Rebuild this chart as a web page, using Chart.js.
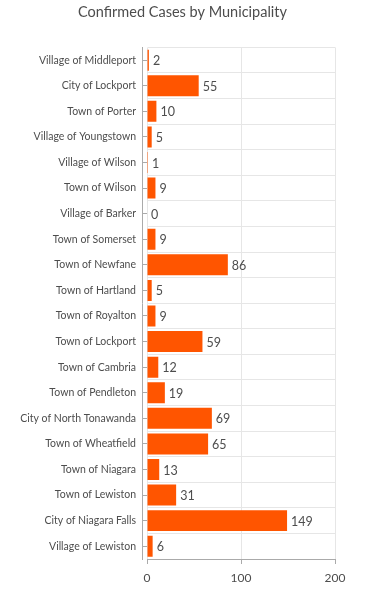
<!DOCTYPE html>
<html>
<head>
<meta charset="utf-8">
<script src="https://cdn.jsdelivr.net/npm/chart.js@4"></script>
<style>
  html, body { margin: 0; padding: 0; background: #fff; }
  #wrap { width: 365px; height: 589px; }
</style>
</head>
<body>
<div id="wrap"><canvas id="myBarChart"></canvas></div>
<script>
var municipalities = [
    'Village of Middleport', 'City of Lockport', 'Town of Porter', 'Village of Youngstown',
    'Village of Wilson', 'Town of Wilson', 'Village of Barker', 'Town of Somerset',
    'Town of Newfane', 'Town of Hartland', 'Town of Royalton', 'Town of Lockport',
    'Town of Cambria', 'Town of Pendleton', 'City of North Tonawanda', 'Town of Wheatfield',
    'Town of Niagara', 'Town of Lewiston', 'City of Niagara Falls', 'Village of Lewiston'
];
var confirmedCases = [2, 55, 10, 5, 1, 9, 0, 9, 86, 5, 9, 59, 12, 19, 69, 65, 13, 31, 149, 6];
var xTicks = [0, 100, 200];

var textColor = '#4d4d4d';
var fontFamily = 'Lato, "Open Sans", sans-serif';

// 在每个条形末端写上数值
var valueLabels = {
    id: 'valueLabels',
    afterDatasetsDraw: function(chart) {
        var ctx = chart.ctx;
        var meta = chart.getDatasetMeta(0);
        ctx.save();
        ctx.font = '12.5px ' + fontFamily;
        ctx.fillStyle = textColor;
        ctx.textAlign = 'left';
        ctx.textBaseline = 'middle';
        meta.data.forEach(function(bar, i) {
            ctx.fillText(String(confirmedCases[i]), bar.x + 4, bar.y + 1);
        });
        ctx.restore();
    }
};

var bar = document.getElementById('myBarChart').getContext('2d');
var myBarChart = new Chart(bar, {
    type: 'bar',
    data: {
        labels: municipalities,
        datasets: [{
            label: 'Confirmed Cases',
            data: confirmedCases,
            backgroundColor: '#ff5500',
            barPercentage: 0.82,
            categoryPercentage: 1
        }]
    },
    options: {
        indexAxis: 'y',
        responsive: true,
        maintainAspectRatio: false,
        animation: false,
        layout: { padding: { left: 4, right: 4, top: 4, bottom: -3 } },
        plugins: {
            legend: { display: false },
            tooltip: { enabled: false },
            title: {
                display: true,
                text: 'Confirmed Cases by Municipality',
                color: textColor,
                font: { family: fontFamily, size: 14.5, weight: 'normal' },
                padding: { top: 0, bottom: 26 }
            }
        },
        scales: {
            x: {
                min: 0,
                max: 200,
                afterBuildTicks: function(axis) {
                    axis.ticks = xTicks.map(function(v) { return { value: v }; });
                },
                ticks: {
                    color: textColor,
                    font: { family: fontFamily, size: 12, lineHeight: 1 },
                    padding: 8,
                    maxRotation: 0
                },
                grid: {
                    color: '#e6e6e6',
                    tickColor: '#aaaaaa',
                    tickLength: 5
                },
                border: { color: '#aaaaaa' }
            },
            y: {
                weight: 1,
                afterFit: function(axis) {
                    axis.width = 138; // 标签太长，固定宽度
                },
                ticks: {
                    color: textColor,
                    font: { family: fontFamily, size: 10.5 },
                    padding: 6
                },
                grid: {
                    offset: true,
                    color: '#e6e6e6',
                    drawTicks: false
                },
                border: { color: '#aaaaaa' }
            },
            // 只用来画每个类别中间的小刻度线
            yTicks: {
                type: 'category',
                axis: 'y',
                position: 'left',
                weight: 0,
                labels: municipalities,
                offset: true,
                ticks: { display: false },
                grid: {
                    offset: false,
                    drawOnChartArea: false,
                    tickLength: 5,
                    tickColor: '#aaaaaa'
                },
                border: { display: false }
            },
            // 右边留空白，标题仍然居中
            yRight: {
                type: 'category',
                axis: 'y',
                position: 'right',
                labels: municipalities,
                offset: true,
                afterFit: function(axis) {
                    axis.width = 26;
                },
                ticks: { display: false },
                grid: { display: false },
                border: { display: false }
            }
        }
    },
    plugins: [valueLabels]
});
</script>
</body>
</html>
